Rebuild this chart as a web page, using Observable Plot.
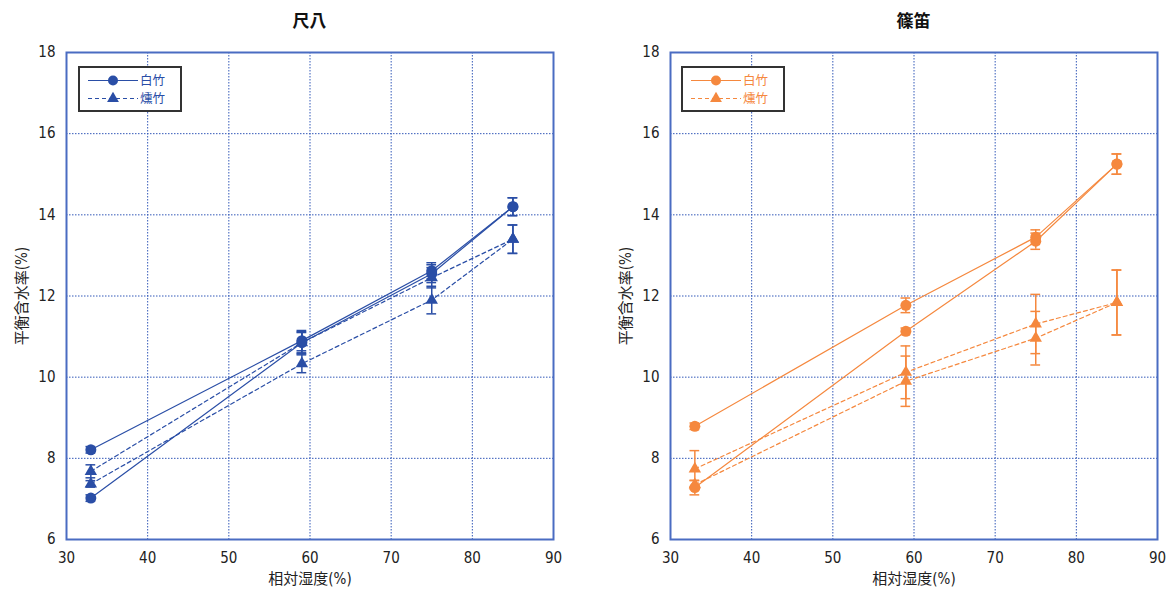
<!DOCTYPE html>
<html><head><meta charset="utf-8">
<script src="https://cdn.jsdelivr.net/npm/d3@7"></script>
<script src="https://cdn.jsdelivr.net/npm/@observablehq/plot@0.6"></script>
<style>
body{margin:0;background:#fff;}
#wrap{position:relative;width:1176px;height:596px;display:flex;overflow:hidden;}
.title{position:absolute;top:7px;text-align:center;font:bold 17px 'Noto Sans CJK JP',sans-serif;color:#111;}
.legend{position:absolute;border:2px solid #333;background:#fff;box-sizing:border-box;}
</style></head><body><div id="wrap"></div>
<script>
// ---- data ----
const rh = [33, 59, 75, 85];
const xTicks = [30, 40, 50, 60, 70, 80, 90];
const yTicks = [6, 8, 10, 12, 14, 16, 18];
const panelTitles = ["尺八", "篠笛"];
const seriesNames = ["白竹", "燻竹"];
const xLabel = "相対湿度(%)";
const yLabel = "平衡含水率(%)";

// 尺八 (shakuhachi)
const shakuWhiteAds    = [7.02, 10.85, 12.55, 14.2];
const shakuWhiteAdsErr = [0.08, 0.25, 0.22, 0.22];
const shakuWhiteDes    = [8.21, 10.9, 12.62, 14.2];
const shakuWhiteDesErr = [0.08, 0.25, 0.2, 0.22];
const shakuSmokedAds    = [7.37, 10.33, 11.9, 13.4];
const shakuSmokedAdsErr = [0.08, 0.22, 0.34, 0.35];
const shakuSmokedDes    = [7.68, 10.85, 12.45, 13.4];
const shakuSmokedDesErr = [0.16, 0.27, 0.25, 0.35];

// 篠笛 (shinobue)
const shinoWhiteAds    = [7.28, 11.13, 13.35, 15.25];
const shinoWhiteAdsErr = [0.18, 0.08, 0.2, 0.25];
const shinoWhiteDes    = [8.79, 11.77, 13.45, 15.25];
const shinoWhiteDesErr = [0.08, 0.18, 0.18, 0.25];
const shinoSmokedAds    = [7.35, 9.9, 10.96, 11.84];
const shinoSmokedAdsErr = [0.1, 0.62, 0.66, 0.8];
const shinoSmokedDes    = [7.74, 10.12, 11.31, 11.84];
const shinoSmokedDesErr = [0.45, 0.65, 0.73, 0.8];

// ---- build tables ----
function rows(species, branch, vals, errs) {
  return rh.map((x, i) => ({rh: x, v: vals[i], err: errs[i], species, branch, key: species + branch}));
}
const shakuRows = [
  ...rows(seriesNames[0], "ads", shakuWhiteAds, shakuWhiteAdsErr),
  ...rows(seriesNames[0], "des", shakuWhiteDes, shakuWhiteDesErr),
  ...rows(seriesNames[1], "ads", shakuSmokedAds, shakuSmokedAdsErr),
  ...rows(seriesNames[1], "des", shakuSmokedDes, shakuSmokedDesErr)
];
const shinoRows = [
  ...rows(seriesNames[0], "ads", shinoWhiteAds, shinoWhiteAdsErr),
  ...rows(seriesNames[0], "des", shinoWhiteDes, shinoWhiteDesErr),
  ...rows(seriesNames[1], "ads", shinoSmokedAds, shinoSmokedAdsErr),
  ...rows(seriesNames[1], "des", shinoSmokedDes, shinoSmokedDesErr)
];

const colors = ["#2a4ea6", "#f5883e"];
const gridColor = "#3358b8";
const frameColor = "#4a6cc2";
const capHalf = 0.6;

function panel(data, color, ml, mr) {
  const white = data.filter(d => d.species === seriesNames[0]);
  const smoked = data.filter(d => d.species === seriesNames[1]);
  return Plot.plot({
    width: 588, height: 596,
    marginLeft: ml, marginRight: mr, marginTop: 52, marginBottom: 57,
    x: {domain: [30, 90]},
    y: {domain: [6, 18]},
    style: {fontFamily: "'Liberation Sans Narrow','DejaVu Sans Condensed','Noto Sans CJK JP',sans-serif", fontSize: "15px", color: "#222", background: "#fff"},
    marks: [
      Plot.gridX(xTicks, {stroke: gridColor, strokeOpacity: 1, strokeDasharray: "1.5,1.5", strokeWidth: 1}),
      Plot.gridY(yTicks, {stroke: gridColor, strokeOpacity: 1, strokeDasharray: "1.5,1.5", strokeWidth: 1}),
      Plot.frame({stroke: frameColor, strokeWidth: 2}),
      Plot.axisX(xTicks, {tickSize: 0, tickPadding: 13, label: xLabel, labelAnchor: "center", labelArrow: "none", labelOffset: 44, fontSize: 15}),
      Plot.axisY(yTicks, {tickSize: 0, tickPadding: 11, label: yLabel, labelAnchor: "center", labelArrow: "none", labelOffset: 50, fontSize: 15}),
      Plot.line(white, {x: "rh", y: "v", z: "key", stroke: color, strokeWidth: 1.2}),
      Plot.line(smoked, {x: "rh", y: "v", z: "key", stroke: color, strokeWidth: 1.2, strokeDasharray: "4,3"}),
      Plot.ruleX(data, {x: "rh", y1: d => d.v - d.err, y2: d => d.v + d.err, stroke: color, strokeWidth: 1.5}),
      Plot.ruleY(data, {x1: d => d.rh - capHalf, x2: d => d.rh + capHalf, y: d => d.v + d.err, stroke: color, strokeWidth: 1.5}),
      Plot.ruleY(data, {x1: d => d.rh - capHalf, x2: d => d.rh + capHalf, y: d => d.v - d.err, stroke: color, strokeWidth: 1.5}),
      Plot.dot(white, {x: "rh", y: "v", r: 5.5, fill: color, stroke: "none", symbol: "circle"}),
      Plot.dot(smoked, {x: "rh", y: "v", r: 4.6, fill: color, stroke: "none", symbol: "triangle"})
    ]
  });
}

const wrap = document.getElementById("wrap");
wrap.append(panel(shakuRows, colors[0], 66, 35));
wrap.append(panel(shinoRows, colors[1], 82, 19));

// titles
[[66, 487], [670, 487]].forEach(([l, w], i) => {
  const t = document.createElement("div");
  t.className = "title";
  t.style.left = l + "px"; t.style.width = w + "px";
  t.textContent = panelTitles[i];
  wrap.append(t);
});

// legends
[[78, 66], [681, 66]].forEach(([l, tp], i) => {
  const box = document.createElement("div");
  box.className = "legend";
  box.style.left = l + "px"; box.style.top = tp + "px";
  box.style.width = "104px"; box.style.height = "46px";
  const c = colors[i];
  box.innerHTML = `<svg width="100" height="42" style="position:absolute;left:0;top:0">
    <line x1="8" x2="58" y1="12.5" y2="12.5" stroke="${c}" stroke-width="1.2"/>
    <circle cx="33" cy="12.5" r="5" fill="${c}"/>
    <line x1="8" x2="58" y1="30.5" y2="30.5" stroke="${c}" stroke-width="1.2" stroke-dasharray="4,3"/>
    <path d="${d3.symbol(d3.symbolTriangle, 4.4*4.4*Math.PI)()}" transform="translate(33,30.5)" fill="${c}"/>
    <text x="60" y="12.5" dy="0.35em" font-family="'Noto Sans CJK JP',sans-serif" font-size="12.5" fill="${c}">${seriesNames[0]}</text>
    <text x="60" y="31" dy="0.35em" font-family="'Noto Sans CJK JP',sans-serif" font-size="12.5" fill="${c}">${seriesNames[1]}</text>
  </svg>`;
  wrap.append(box);
});
</script></body></html>
